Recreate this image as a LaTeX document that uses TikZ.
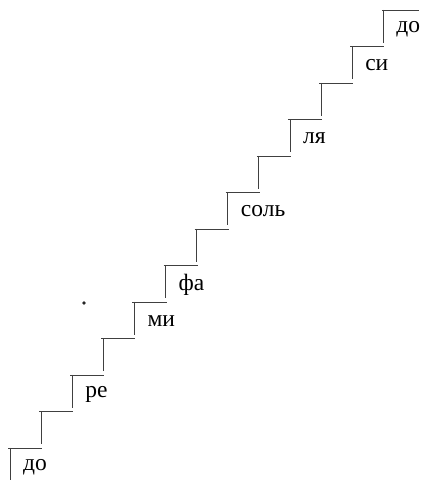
\documentclass[tikz,border=0pt]{standalone}
\usepackage{fontspec}
\setmainfont{Liberation Serif}
\usetikzlibrary{calc}

\tikzset{
	stair/.style={black!75, line width=0.8pt},
	note/.style={anchor=west, inner sep=0pt, font=\fontsize{23.5}{23.5}\selectfont}
}

\begin{document}
\begin{tikzpicture}[x=1pt,y=1pt]
	\useasboundingbox (0,0) rectangle (423,480);
	% corners of the steps
	\foreach \i in {0,...,12}
		\coordinate (s\i) at (10+31.1*\i, 32+36.5*\i);
	\foreach \i [evaluate=\i as \j using int(\i+1)] in {0,...,11}
		\draw [stair] ($(s\i)+(-2,0)$) -- ($(s\j |- s\i)+(1,0)$);
	\foreach \i in {1,...,12}
		\draw [stair] (s\i) -- ++(0,-33);
	\draw [stair] (s0) -- (s0 |- 0,0);
	\draw [stair] ($(s12)+(-1,0)$) -- ++(37,0);
	% names of the notes
	\foreach \i/\t in {0/до,2/ре,4/ми,5/фа,7/соль,9/ля,11/си,12/до}
		\node [note] (n\i) at ($(s\i)+(13,-19)$) {\t};
	\fill [black!85] (84,177) circle (1.9);
\end{tikzpicture}
\end{document}
